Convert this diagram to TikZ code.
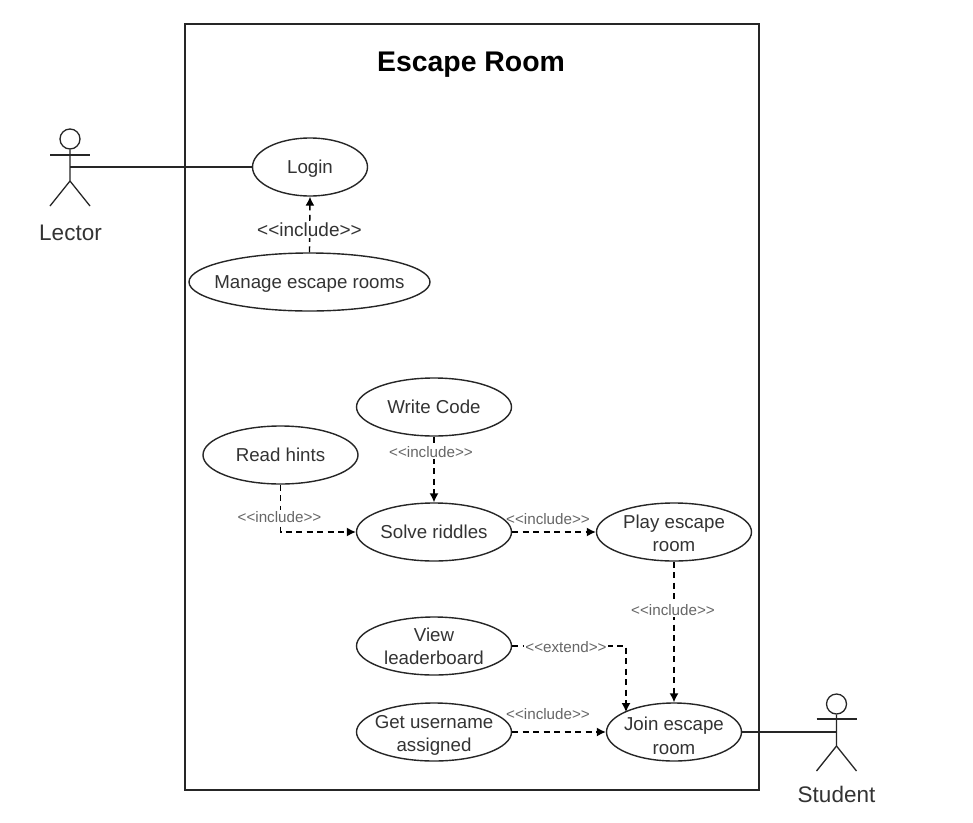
\documentclass[tikz,border=0pt]{standalone}
\usepackage{fontspec}
\setmainfont{Liberation Sans}
\usetikzlibrary{shapes.geometric,arrows.meta,calc}
\definecolor{txt}{HTML}{333333}
\definecolor{lbl}{HTML}{666666}
\newcommand{\inc}{{<}{<}include{>}{>}}
\newcommand{\ext}{{<}{<}extend{>}{>}}
\tikzset{
  uc/.style={draw=black!85,line width=1.4pt,ellipse,inner sep=0pt,minimum width=155pt,minimum height=58pt},
  uctext/.style={draw=none,inner sep=0pt,align=center,text=txt,yshift=-1.5pt,font=\fontsize{18.7}{23.5}\selectfont},
  stick/.style={draw=black!85,line width=1.3pt},
  assoc/.style={draw=black!85,line width=1.4pt},
  dep/.style={draw=black,line width=1.4pt,dash pattern=on 6pt off 4.5pt,-{Latex[length=9pt,width=9pt]}},
  smalllbl/.style={fill=white,inner sep=1pt,text=lbl,font=\fontsize{15.2}{17}\selectfont},
  biglbl/.style={fill=white,inner sep=1pt,text=txt,font=\fontsize{19}{21}\selectfont},
  actorlbl/.style={text=txt,font=\fontsize{22.5}{26}\selectfont,inner sep=0pt},
}
\begin{document}
\begin{tikzpicture}[x=1pt,y=-1pt]
\useasboundingbox (0,0) rectangle (973,822);
\fill[white] (0,0) rectangle (973,822);
\draw[draw=black!85,line width=1.4pt] (185,24) rectangle (759,790);
\node[inner sep=0pt,font=\bfseries\fontsize{28.4}{32}\selectfont] (title) at (471,65) {Escape Room};

\node[uc,minimum width=115pt,label={[uctext]center:Login}] (login) at (310,167) {};
\node[uc,minimum width=241pt,label={[uctext,yshift=-1pt]center:Manage escape rooms}] (manage) at (309.5,282) {};
\node[uc,label={[uctext,yshift=1.5pt]center:Write Code}] (write) at (434,407) {};
\node[uc,label={[uctext,yshift=1.5pt]center:Read hints}] (hints) at (280.5,455) {};
\node[uc,label={[uctext,yshift=1.5pt]center:Solve riddles}] (solve) at (434,532) {};
\node[uc,label={[uctext]center:Play escape\\room}] (play) at (674,532) {};
\node[uc,label={[uctext,yshift=1pt]center:View\\leaderboard}] (view) at (434,646) {};
\node[uc,label={[uctext,yshift=-2pt]center:Get username\\assigned}] (get) at (434,732) {};
\node[uc,minimum width=135pt,label={[uctext,yshift=-2.5pt]center:Join escape\\room}] (join) at (674,732) {};

% Lector
\node[draw=black!85,line width=1.3pt,circle,minimum size=20pt,inner sep=0pt] (lhead) at (70,139) {};
\coordinate (lhip) at (70,181);
\coordinate (lhub) at (70,167);
\draw[stick] (lhead.south) -- (lhip) -- (50,206);
\draw[stick] (lhip) -- (90,206);
\draw[stick] (50,155) -- (90,155);
\node[actorlbl] (lector) at (70.5,233) {Lector};
\draw[assoc] (lhub) -- (login.west);

% Student
\node[draw=black!85,line width=1.3pt,circle,minimum size=20pt,inner sep=0pt] (shead) at (836.5,704) {};
\coordinate (ship) at (836.5,746);
\coordinate (shub) at (836.5,732);
\draw[stick] (shead.south) -- (ship) -- (816.5,771);
\draw[stick] (ship) -- (856.5,771);
\draw[stick] (816.5,719) -- (856.5,719);
\node[actorlbl] (student) at (836.5,794) {Student};
\draw[assoc] (join.east) -- (shub);

% dependencies
\draw[dep] (manage.north) -- (login.south);
\draw[dep] (write.south) -- (solve.north);
\draw[dep] (hints.south) |- (solve.west);
\draw[dep] (solve.east) -- (play.west);
\draw[dep] (play.south) -- (join.north);
\coordinate (extcorner) at (626,646);
\draw[dep] (view.east) -- (extcorner) -- (626,712);
\draw[dep] (get.east) -- (join.west);

% labels
\node[biglbl] (l1) at (309.5,230) {\inc};
\node[smalllbl] (l2) at (431,452) {\inc};
\node[smalllbl] (l3) at (279.5,517) {\inc};
\node[smalllbl,fill=none] (l4) at (548,519) {\inc};
\node[smalllbl] (l5) at (673,610) {\inc};
\node[smalllbl] (l6) at (566,647) {\ext};
\node[smalllbl,fill=none] (l7) at (548,714) {\inc};
\end{tikzpicture}
\end{document}
